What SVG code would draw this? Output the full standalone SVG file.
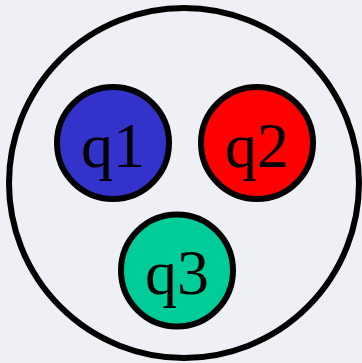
<svg xmlns="http://www.w3.org/2000/svg" width="362" height="363" viewBox="0 0 362 363">
<style>
.n{stroke:#000;stroke-width:6}
.t{font-family:"Liberation Serif","Times New Roman",serif;font-size:64px;fill:#000;text-anchor:middle}
</style>
<rect width="362" height="363" fill="#eff0f5"/>
<g id="outer"><circle cx="184" cy="183" r="175" fill="none" stroke="#000" stroke-width="6"/></g>
<g id="q1"><circle class="n" cx="113" cy="143" r="56" fill="#3333cc"/><text class="t" x="113" y="167">q1</text></g>
<g id="q2"><circle class="n" cx="257" cy="143" r="56" fill="#ff0000"/><text class="t" x="257" y="167">q2</text></g>
<g id="q3"><circle class="n" cx="177" cy="270.5" r="56" fill="#00cc99"/><text class="t" x="177" y="294">q3</text></g>
<g id="connectors"></g>
</svg>
